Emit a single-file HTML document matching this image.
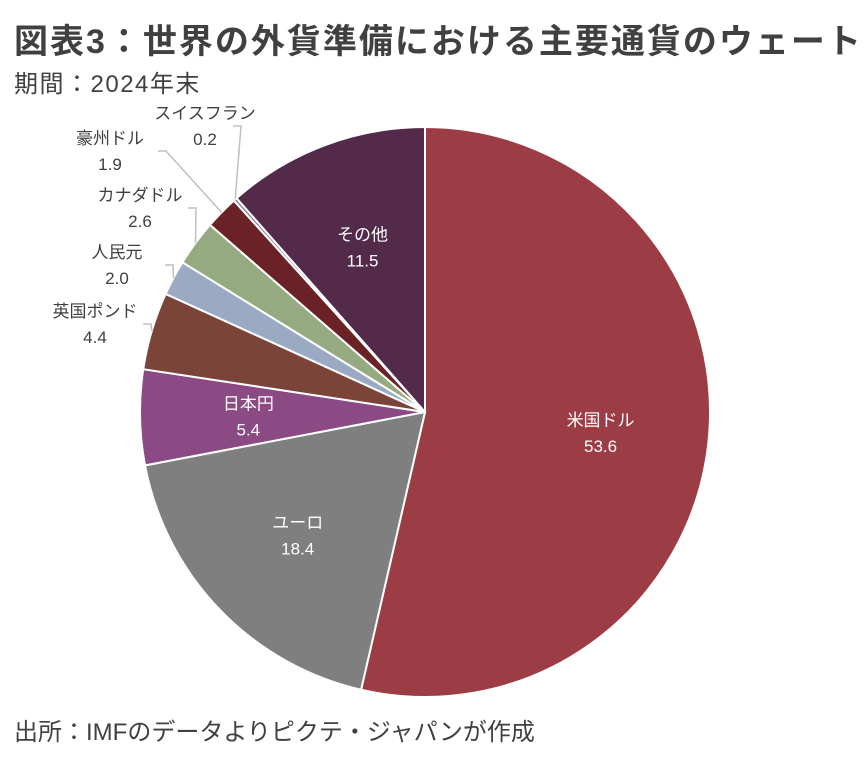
<!DOCTYPE html>
<html><head><meta charset="utf-8">
<style>
body{margin:0;background:#fff;width:868px;height:766px;overflow:hidden;font-family:"Liberation Sans","Noto Sans CJK JP",sans-serif;}
.t{position:absolute;left:14px;top:14px;font-size:34px;font-weight:bold;color:#404040;letter-spacing:2px;}
.s{position:absolute;left:14px;top:64px;font-size:24px;color:#404040;letter-spacing:1.5px;}
.f{position:absolute;left:14px;top:712px;font-size:24px;color:#404040;}
svg{position:absolute;left:0;top:0;}
</style></head><body>
<div class="t">図表3：世界の外貨準備における主要通貨のウェート</div>
<div class="s">期間：2024年末</div>
<svg id="chart" width="868" height="766"></svg>
<div class="f">出所：IMFのデータよりピクテ・ジャパンが作成</div>
<script>
const categories=["米国ドル","ユーロ","日本円","英国ポンド","人民元","カナダドル","豪州ドル","スイスフラン","その他"];
const values=[53.6,18.4,5.4,4.4,2.0,2.6,1.9,0.2,11.5];
const valueLabels=["53.6","18.4","5.4","4.4","2.0","2.6","1.9","0.2","11.5"];
const colors=["#9c3d45","#7f7f7f","#8b4a83","#7b4439","#9aaac2","#95aa80","#6b2227","#8a7f96","#532a49"];
const inside=[true,true,true,false,false,false,false,false,true];
const outPos={3:[95,323],4:[117,264],5:[140,207],6:[110,150],7:[205,125]};
const cx=425,cy=412,r=285;
const svg=document.getElementById('chart');
const NS="http://www.w3.org/2000/svg";
const total=values.reduce((a,b)=>a+b,0);
function pt(a,rr){return [cx+rr*Math.sin(a),cy-rr*Math.cos(a)];}
let acc=0;
values.forEach((v,i)=>{
  const a0=acc/total*2*Math.PI; acc+=v; const a1=acc/total*2*Math.PI;
  const p0=pt(a0,r),p1=pt(a1,r);
  const path=document.createElementNS(NS,'path');
  path.setAttribute('d',`M${cx},${cy}L${p0[0]},${p0[1]}A${r},${r} 0 ${(a1-a0)>Math.PI?1:0} 1 ${p1[0]},${p1[1]}Z`);
  path.setAttribute('fill',colors[i]);path.setAttribute('stroke','#fff');path.setAttribute('stroke-width','2');
  
  
  svg.appendChild(path);
  const am=(a0+a1)/2;
  let lx,ly,fill;
  if(inside[i]){const p=pt(am,r*0.62);lx=p[0];ly=p[1];fill='#fff';}
  else{
    [lx,ly]=outPos[i];fill='#404040';
    const e=pt(am,r);
    const ln=document.createElementNS(NS,'polyline');
    const sx=lx+(i==7?28:48);
    ln.setAttribute('points',`${sx},${ly+1} ${sx+8},${ly+1} ${e[0]},${e[1]}`);
    ln.setAttribute('fill','none');ln.setAttribute('stroke','#bfbfbf');ln.setAttribute('stroke-width','1.5');
    
    
    svg.appendChild(ln);
  }
  [[categories[i],ly-6],[valueLabels[i],ly+20]].forEach(([txt,y],k)=>{
    const t=document.createElementNS(NS,'text');
    t.setAttribute('x',lx);t.setAttribute('y',y);t.setAttribute('text-anchor','middle');
    t.setAttribute('font-size','17');t.setAttribute('fill',fill);
    t.textContent=txt;
    
    
    svg.appendChild(t);
  });
});
</script>
</body></html>
